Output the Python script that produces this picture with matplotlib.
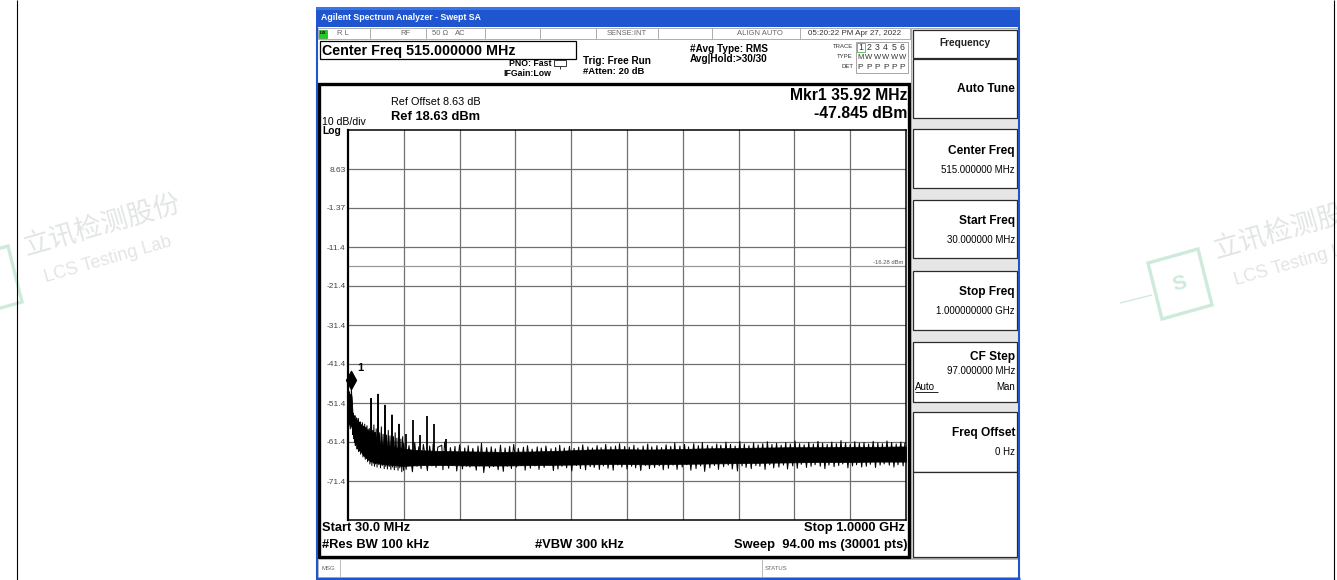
import matplotlib
matplotlib.use('Agg')
import matplotlib.pyplot as plt
from matplotlib.patches import Rectangle, Polygon
import numpy as np

W, H = 1337, 580
plt.rcParams['font.family'] = ['Liberation Sans', 'DejaVu Sans']

# ---------------- data ----------------
start_mhz = 30.0
stop_mhz = 1000.0
ref_level = 18.63
db_per_div = 10
y_tick_labels = ['8.63', '-1.37', '-11.4', '-21.4', '-31.4', '-41.4', '-51.4', '-61.4', '-71.4']
display_line = -16.28
marker_freq = 35.92
marker_level = -47.845

# solid core of the trace band (dBm)
core_freq = [30, 33, 36, 38, 41, 45, 50, 55, 60, 66, 75, 85, 95, 110, 124, 140, 160, 200, 250,
             300, 350, 400, 450, 500, 550, 600, 650, 700, 750, 800, 850, 900, 950, 1000]
core_hi = [-50.0, -49.0, -49.5, -54.0, -56.5, -57.5, -58.5, -59.5, -60.2, -60.8, -61.4, -61.9, -62.3,
           -62.7, -63.0, -63.3, -63.5, -63.7, -63.8, -63.9, -63.8, -63.6, -63.3, -63.2, -63.3, -63.2,
           -63.0, -62.9, -62.8, -62.7, -62.7, -62.6, -62.6, -62.5]
core_lo = [-56.5, -57.0, -57.5, -59.0, -60.5, -62.0, -63.2, -64.5, -65.3, -66.0, -66.5, -66.9, -67.1,
           -67.3, -67.5, -67.4, -67.3, -67.3, -67.4, -67.4, -67.3, -67.2, -67.1, -67.0, -67.1, -67.0,
           -66.9, -66.8, -66.7, -66.6, -66.5, -66.5, -66.4, -66.4]

# harmonic spurs and peaks in the low band
spur_freq = [30.5, 32.5, 35.9, 37.5, 39, 40.5, 42, 43.5, 45, 46.5, 48, 49.5, 51, 53, 55, 57, 59, 61,
             63, 65, 67, 69, 70.5, 73, 75, 77, 79, 82.3, 85, 88, 91, 94.3, 97, 100, 103, 106.5, 109,
             112, 115, 118.6, 122, 125]
spur_top = [-50.5, -48.5, -47.85, -52.5, -54.0, -55.0, -54.6, -55.6, -55.2, -56.0, -55.4, -56.5,
            -56.2, -56.9, -56.4, -57.3, -56.8, -57.6, -57.2, -58.2, -57.9, -58.6, -50.2, -58.4,
            -57.0, -58.9, -58.0, -49.1, -59.0, -57.5, -59.4, -51.9, -59.6, -58.4, -59.8, -54.4,
            -60.0, -59.0, -60.4, -56.8, -60.6, -60.0]
# tallest harmonic spurs (drawn heavier)
harm_freq = [70.5, 82.3, 94.3, 106.5, 118.6, 130.8, 143, 155, 167, 179.5, 201]
harm_top = [-50.2, -49.1, -51.9, -54.4, -56.8, -59.2, -55.7, -59.6, -54.7, -56.8, -60.6]

# troughs in the low band
low_dip_freq = [31, 34, 38.3, 39.8, 41.3, 42.8, 44.2, 45.8, 47.2, 48.8, 50.3, 52, 54, 56, 58, 60,
                62, 64, 66, 68, 69.8, 71.5, 74, 76, 78, 80.5, 83.5, 86.5, 89.5, 93, 95.5, 98.5,
                101.5, 104.5, 107.5, 110.5, 113.5, 117, 120, 123.5, 126.5]
low_dip_level = [-57.5, -58.0, -59.5, -60.5, -61.5, -62.3, -62.0, -63.2, -62.8, -63.8, -63.5, -64.5,
                 -64.0, -65.2, -64.8, -65.8, -65.4, -66.4, -66.0, -67.0, -66.5, -67.4, -66.8, -67.6,
                 -67.0, -67.8, -67.2, -68.0, -67.4, -68.2, -67.6, -68.3, -67.7, -68.4, -67.8, -68.5,
                 -67.9, -68.6, -68.0, -69.0, -68.6]

# noise-floor peaks
hair_up_freq = [127, 136, 146, 153, 161, 172, 178, 186, 193, 198,
                208, 216, 224, 233, 239, 247, 256, 262, 271, 279,
                286, 295, 303, 311, 318, 326, 335, 342, 350, 359,
                366, 374, 383, 391, 398, 406, 415, 423, 431, 438,
                447, 455, 463, 470, 478, 487, 495, 502, 511, 519,
                527, 534, 543, 551, 558, 567, 575, 583, 591, 598,
                607, 615, 622, 631, 639, 646, 655, 663, 671, 678,
                687, 695, 703, 711, 719, 727, 735, 743, 751, 759,
                767, 775, 783, 791, 799, 807, 815, 823, 831, 839,
                847, 855, 863, 871, 879, 887, 895, 903, 911, 919,
                927, 935, 943, 951, 959, 967, 975, 983, 991, 998]
hair_up_top = [-61.8, -62.3, -61.5, -62.6, -62.0, -62.4, -61.9, -62.7, -62.2, -61.4,
               -62.8, -62.5, -62.1, -62.9, -62.3, -63.0, -62.4, -61.7, -62.8, -62.6,
               -63.1, -62.2, -62.9, -62.5, -62.0, -63.0, -62.7, -62.3, -63.2, -62.6,
               -62.9, -62.4, -63.1, -62.8, -62.2, -62.9, -62.5, -63.0, -62.7, -62.1,
               -62.6, -62.9, -62.3, -62.8, -62.0, -62.6, -62.4, -61.8, -62.5, -62.7,
               -62.2, -62.9, -62.4, -61.9, -62.6, -62.3, -62.8, -62.1, -62.5, -61.6,
               -62.4, -62.0, -62.6, -61.8, -62.3, -61.5, -62.2, -62.5, -61.9, -62.2,
               -61.4, -62.0, -62.4, -61.2, -61.9, -62.3, -61.6, -62.1, -61.8, -61.3,
               -62.0, -61.7, -62.2, -61.5, -61.9, -61.1, -61.8, -62.1, -61.5, -61.9,
               -61.2, -61.7, -62.0, -61.4, -61.8, -61.0, -61.6, -62.0, -61.3, -61.7,
               -61.5, -61.9, -61.2, -61.6, -61.8, -61.1, -61.5, -61.9, -61.4, -61.7]

# noise-floor troughs
hair_dn_freq = [131, 142, 150, 157, 168, 176, 183, 195, 205, 212, 219, 229, 236, 242,
                253, 259, 266, 276, 283, 291, 300, 307, 314, 323, 331, 338, 347, 355, 362,
                371, 379, 387, 395, 402, 410, 419, 427, 434, 443, 451, 458, 467, 474, 482,
                491, 499, 506, 515, 523, 530, 539, 547, 554, 563, 571, 578, 587, 595, 602,
                611, 619, 626, 635, 643, 650, 659, 667, 674, 683, 691, 698, 707, 715, 722,
                731, 739, 746, 755, 763, 770, 779, 787, 794, 803, 811, 818, 827, 835, 842,
                851, 859, 866, 875, 883, 890, 899, 907, 914, 923, 931, 938, 947, 955, 962,
                971, 979, 986, 995]
hair_dn_bot = [-68.4, -69.0, -67.6, -68.2, -68.7, -67.5, -67.9, -68.5, -68.1, -67.4, -68.8, -68.3,
               -67.6, -67.8, -68.6, -67.5, -69.2, -68.0, -67.7, -68.5, -68.9, -67.6, -68.2, -67.8,
               -67.4, -68.6, -68.1, -67.5, -68.4, -67.9, -67.3, -68.7, -68.3, -67.6, -68.0, -68.8,
               -67.4, -68.2, -68.5, -67.7, -67.9, -68.4, -67.5, -68.1, -68.6, -67.3, -67.8, -68.3,
               -67.6, -68.0, -68.7, -67.4, -68.2, -67.9, -67.5, -68.5, -68.1, -67.3, -68.4, -67.8,
               -67.2, -68.6, -68.2, -67.5, -68.9, -68.0, -67.4, -68.4, -67.7, -67.3, -68.3, -68.8,
               -67.5, -67.9, -68.2, -67.4, -67.6, -68.4, -67.2, -68.0, -67.8, -67.3, -68.3, -67.5,
               -68.1, -67.1, -67.9, -67.6, -67.2, -67.6, -68.2, -67.3, -67.7, -67.4, -67.0, -68.0,
               -67.5, -67.2, -67.8, -67.6, -67.1, -67.9, -67.3, -67.0, -67.3, -67.8, -67.2, -67.5]

# ---------------- figure ----------------
fig = plt.figure(figsize=(W / 100, H / 100), dpi=100)
fig.patch.set_facecolor('white')
bg = fig.add_axes([0, 0, 1, 1])
bg.set_xlim(0, W)
bg.set_ylim(H, 0)
bg.axis('off')


def rect(x0, y0, x1, y1, fc='none', ec='none', lw=1.0, z=1):
    bg.add_patch(Rectangle((x0, y0), x1 - x0, y1 - y0, facecolor=fc, edgecolor=ec, lw=lw, zorder=z))


def line(x0, y0, x1, y1, c='black', lw=0.8, z=2):
    bg.plot([x0, x1], [y0, y1], color=c, lw=lw, zorder=z, solid_capstyle='butt')


def txt(x, y, s, size=7, weight='normal', ha='left', va='center', c='black', z=5, **kw):
    return bg.text(x, y, s, fontsize=size, fontweight=weight, ha=ha, va=va, color=c, zorder=z, **kw)


# ---- watermarks ----
clip_box = Rectangle((0, 0), 1333, H, transform=bg.transData, fc='none', ec='none')


def watermark(dx, dy, with_s):
    col_t = '#e2e6e2'
    t1 = bg.text(102 + dx, 225 + dy, '立讯检测股份', fontsize=19.5, rotation=16, ha='center', va='center',
                 color=col_t, family=['Noto Sans CJK SC'], zorder=0.5)
    t2 = bg.text(108 + dx, 260 + dy, 'LCS Testing Lab', fontsize=13, rotation=16, ha='center', va='center',
                 color=col_t, zorder=0.5)
    t1.set_clip_path(clip_box)
    t2.set_clip_path(clip_box)
    lc = '#cdeadb'
    pts = [(-42 + dx, 260 + dy), (8 + dx, 246 + dy), (22 + dx, 302 + dy), (-28 + dx, 316 + dy)]
    bg.add_patch(Polygon(pts, closed=True, fc='none', ec=lc, lw=2.4, zorder=0.5))
    line(-70 + dx, 300 + dy, -38 + dx, 292 + dy, c=lc, lw=1.0, z=0.5)
    if with_s:
        bg.text(-10 + dx, 281 + dy, 'S', fontsize=15, rotation=16, ha='center', va='center', color=lc,
                fontweight='bold', zorder=0.5)


watermark(0, 0, False)
watermark(1190, 3, True)
line(17, 0, 17, H, c='black', lw=0.8)
line(1333.5, 0, 1333.5, H, c='black', lw=0.8)

# ---- analyzer window ----
rect(316, 7, 1020, 580, fc='white', z=1)
rect(316, 7, 1020, 27, fc='#1f56d0', z=1.1)
rect(316, 7, 1020, 10, fc='#3b74e6', z=1.2)
txt(321, 17.5, 'Agilent Spectrum Analyzer - Swept SA', size=6.3, weight='bold', c='white')
line(317, 27, 317, 580, c='#1f56d0', lw=1.5)
line(1019, 27, 1019, 580, c='#1f56d0', lw=1.5)
line(316, 578.5, 1020, 578.5, c='#1f56d0', lw=2.5)

# status row
rect(318, 28, 910, 39, fc='white', ec='#a0a0a0', lw=0.6, z=1.3)
for sx in [370, 426, 485, 540, 596, 658, 712, 800]:
    line(sx, 28, sx, 39, c='#a0a0a0', lw=0.6)
rect(319, 29.5, 327, 37.5, fc='#22cc22', ec='#118811', lw=0.4, z=1.4)
txt(323, 33.5, 'LXI', size=3, weight='bold', ha='center')
st_c = '#666666'
txt(337, 33.5, 'R L', size=5.5, c=st_c)
txt(400, 33.5, 'RF', size=5.5, c=st_c)
txt(432, 33.5, '50 Ω', size=5.5, c=st_c)
txt(455, 33.5, 'AC', size=5.5, c=st_c)
txt(627, 33.5, 'SENSE:INT', size=5.5, c=st_c, ha='center')
txt(760, 33.5, 'ALIGN AUTO', size=5.5, c=st_c, ha='center')
txt(855, 33.5, '05:20:22 PM Apr 27, 2022', size=5.8, c='#333333', ha='center')

# header
rect(320, 41, 576, 59, fc='white', ec='black', lw=0.9, z=1.3)
txt(322, 50.5, 'Center Freq 515.000000 MHz', size=10.3, weight='bold')
txt(509, 64, 'PNO: Fast', size=6.3, weight='bold')
rect(554, 60, 566, 66, fc='white', ec='#333333', lw=0.7, z=1.4)
line(560, 66, 560, 69, c='#333333', lw=0.7)
txt(503, 73.5, 'IFGain:Low', size=6.3, weight='bold')
txt(583, 60.5, 'Trig: Free Run', size=7.2, weight='bold')
txt(583, 71, '#Atten: 20 dB', size=6.8, weight='bold')
txt(690, 49, '#Avg Type: RMS', size=7.2, weight='bold')
txt(690, 59.5, 'Avg|Hold:>30/30', size=7.2, weight='bold')
txt(853, 47, 'TRACE', size=4.3, ha='right', c='#333333')
txt(853, 57, 'TYPE', size=4.3, ha='right', c='#333333')
txt(853, 67, 'DET', size=4.3, ha='right', c='#333333')
rect(856, 42, 908, 73, fc='none', ec='#999999', lw=0.6, z=1.4)
rect(856.5, 42.5, 865, 52, fc='none', ec='#44bb44', lw=0.6, z=1.45)
for i, s in enumerate(['1', '2', '3', '4', '5', '6']):
    txt(860.5 + i * 8.4, 47.5, s, size=6.3, ha='center', c='#333333')
    txt(860.5 + i * 8.4, 57.5, 'M' if i == 0 else 'W', size=5.5, ha='center', c='#333333')
    txt(860.5 + i * 8.4, 67.5, 'P', size=6.0, ha='center', c='#333333')

# display frame
rect(318.5, 84, 909, 557, fc='white', ec='black', lw=2.4, z=1.3)
txt(391, 102, 'Ref Offset 8.63 dB', size=7.8)
txt(391, 116.5, 'Ref 18.63 dBm', size=9.3, weight='bold')
txt(322, 122, '10 dB/div', size=7.6)
txt(322, 131, 'Log', size=7.4, weight='bold')
txt(907, 95, 'Mkr1 35.92 MHz', size=11.3, weight='bold', ha='right')
txt(907, 113, '-47.845 dBm', size=11.3, weight='bold', ha='right')
txt(322, 528, 'Start 30.0 MHz', size=9.3, weight='bold')
txt(905, 528, 'Stop 1.0000 GHz', size=9.3, weight='bold', ha='right')
txt(322, 545, '#Res BW 100 kHz', size=9.3, weight='bold')
txt(535, 545, '#VBW 300 kHz', size=9.3, weight='bold')
txt(907, 545, 'Sweep  94.00 ms (30001 pts)', size=9.3, weight='bold', ha='right')

# message bar
rect(318, 559, 1018, 577, fc='white', ec='#b0b0b0', lw=0.6, z=1.3)
line(340, 559, 340, 577, c='#b0b0b0', lw=0.6)
line(762, 559, 762, 577, c='#b0b0b0', lw=0.6)
txt(321, 568.5, 'MSG', size=4.3, c='#666666')
txt(765, 568.5, 'STATUS', size=4.3, c='#666666')

# softkey panel
rect(911, 28, 1018, 558, fc='#e6e6e6', ec='#9a9a9a', lw=0.6, z=1.3)
keys = [(30, 58), (59, 118), (129, 188), (200, 258), (271, 330), (342, 402), (412, 472), (472, 557)]
for (y0, y1) in keys:
    rect(913, y0, 1017, y1, fc='white', ec='#2a2a2a', lw=0.9, z=1.4)
txt(965, 43.5, 'Frequency', size=7.3, weight='bold', ha='center', c='#222222')
txt(1015, 89, 'Auto Tune', size=8.6, weight='bold', ha='right')
txt(1015, 151, 'Center Freq', size=8.6, weight='bold', ha='right')
txt(1015, 170, '515.000000 MHz', size=7.0, ha='right')
txt(1015, 221, 'Start Freq', size=8.6, weight='bold', ha='right')
txt(1015, 240, '30.000000 MHz', size=7.0, ha='right')
txt(1015, 292, 'Stop Freq', size=8.6, weight='bold', ha='right')
txt(1015, 311, '1.000000000 GHz', size=7.0, ha='right')
txt(1015, 357, 'CF Step', size=8.6, weight='bold', ha='right')
txt(1015, 371, '97.000000 MHz', size=7.0, ha='right')
txt(915, 386.5, 'Auto', size=7.0, ha='left')
line(915, 391.5, 938, 391.5, c='black', lw=0.6, z=5)
txt(1015, 386.5, 'Man', size=7.0, ha='right')
txt(1015, 433, 'Freq Offset', size=8.6, weight='bold', ha='right')
txt(1015, 452, '0 Hz', size=7.0, ha='right')

# ---------------- spectrum axes ----------------
ax = fig.add_axes([348 / W, 1 - 520 / H, 558 / W, 390 / H])
ax.set_zorder(3)
ax.set_facecolor('white')
ax.set_xlim(start_mhz, stop_mhz)
ax.set_ylim(ref_level - 10 * db_per_div, ref_level)
span = stop_mhz - start_mhz
ax.set_xticks([start_mhz + span * i / 10 for i in range(1, 10)])
ax.set_xticklabels([])
ax.set_yticks([ref_level - db_per_div * (i + 1) for i in range(len(y_tick_labels))])
ax.set_yticklabels(y_tick_labels, fontsize=6.0, color='#444444')
ax.tick_params(length=0, pad=1.8)
ax.grid(True, color='#707070', lw=0.9)
ax.set_axisbelow(True)
for sp in ax.spines.values():
    sp.set_color('black')
    sp.set_linewidth(1.1)
ax.spines['left'].set_linewidth(1.6)

ax.axhline(display_line, color='#9a9a9a', lw=0.9, zorder=2)
ax.text(stop_mhz - 4, display_line + 0.4, '-16.28 dBm', fontsize=4.2, color='#555555',
        ha='right', va='bottom', zorder=3)

# trace: solid core plus a zig-zag through all read extremes
ax.fill_between(core_freq, core_lo, core_hi, color='black', lw=0.5, zorder=4)
f_all = np.concatenate([spur_freq, low_dip_freq, hair_up_freq, hair_dn_freq]).astype(float)
v_all = np.concatenate([spur_top, low_dip_level, hair_up_top, hair_dn_bot]).astype(float)
order = np.argsort(f_all, kind='stable')
ax.plot(f_all[order], v_all[order], color='black', lw=0.75, zorder=4)
core_mid = (np.array(core_hi) + np.array(core_lo)) / 2
ax.vlines(harm_freq, np.interp(harm_freq, core_freq, core_mid), harm_top, color='black', lw=1.3, zorder=4)

diamond = [(0, 0), (0.55, 1), (0, 2), (-0.55, 1), (0, 0)]
ax.plot([marker_freq], [marker_level], marker=diamond, ms=26, color='black', zorder=6, clip_on=False)
ax.annotate('1', xy=(marker_freq, marker_level), xytext=(6.5, 15), textcoords='offset points',
            fontsize=8, fontweight='bold', ha='center', va='center', zorder=6)

fig.savefig('out.png', dpi=100, facecolor='white')
